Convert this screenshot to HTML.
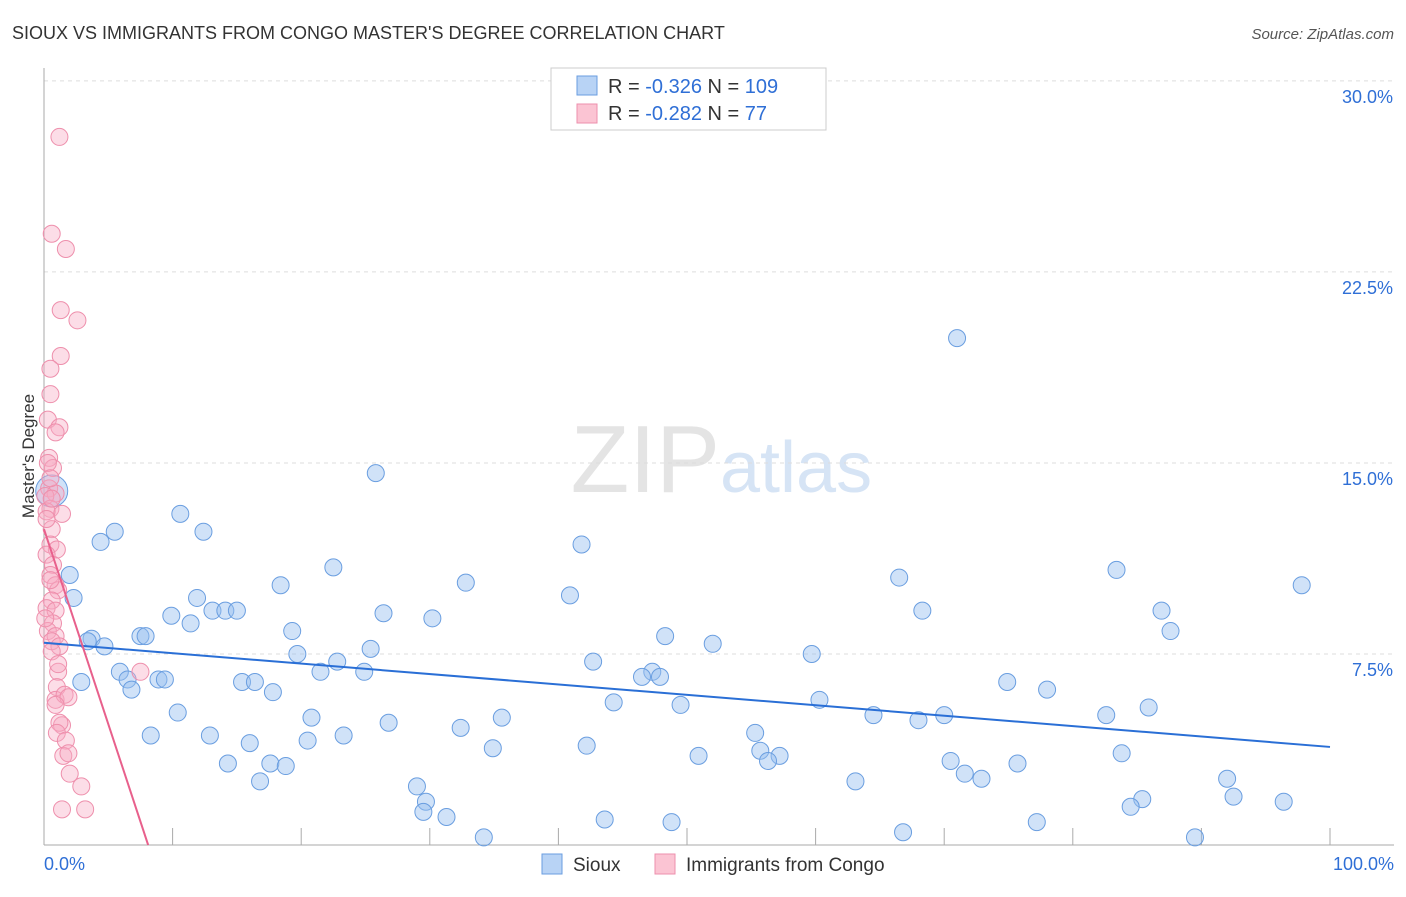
<!DOCTYPE html>
<html><head><meta charset="utf-8"><style>
body{margin:0;background:#fff;font-family:"Liberation Sans",sans-serif}
svg text{font-family:"Liberation Sans",sans-serif}
</style></head><body>
<svg id="c" width="1406" height="892">
<text x="12" y="39" font-size="18" fill="#333">SIOUX VS IMMIGRANTS FROM CONGO MASTER'S DEGREE CORRELATION CHART</text>
<text x="1394" y="39" font-size="15" fill="#555" text-anchor="end" font-style="italic">Source: ZipAtlas.com</text>
<text x="34" y="456" font-size="17" fill="#333" text-anchor="middle" transform="rotate(-90 34 456)">Master's Degree</text>
<text x="720" y="492" font-size="96" fill="#e4e4e4" text-anchor="end" font-family="Liberation Serif">ZIP</text>
<text x="720" y="492" font-size="72" fill="#d6e4f5">atlas</text>
<g id="grid"></g><g id="pts"></g><g id="trend"></g>
<g>
<rect x="551" y="68" width="275" height="62" fill="#fff" stroke="#ccc"/>
<rect x="577" y="76" width="20" height="19" fill="#b8d3f5" stroke="#6a9ee0"/>
<rect x="577" y="104" width="20" height="19" fill="#fbc4d3" stroke="#ee8fac"/>
<text x="608" y="93" font-size="20" fill="#333">R = <tspan fill="#2f6fd6">-0.326</tspan>   N = <tspan fill="#2f6fd6">109</tspan></text>
<text x="608" y="120" font-size="20" fill="#333">R = <tspan fill="#2f6fd6">-0.282</tspan>   N =   <tspan fill="#2f6fd6">77</tspan></text>
</g>
<g>
<rect x="542" y="854" width="20" height="20" fill="#b8d3f5" stroke="#6a9ee0"/>
<text x="573" y="871" font-size="19" fill="#333">Sioux</text>
<rect x="655" y="854" width="20" height="20" fill="#fbc4d3" stroke="#ee8fac"/>
<text x="686" y="871" font-size="19" fill="#333">Immigrants from Congo</text>
</g>
</svg>
<script>
const yTicks=[7.5,15,22.5,30];
const xTickLabels=["0.0%","100.0%"];
const siouxX=[25.8,71,10.6,5.5,12.4,4.4,41.8,22.5,2,18.4,32.8,66.5,83.4,97.8,2.3,11.9,40.9,9.9,13.1,14.1,15,26.4,30.2,68.3,86.9,11.4,87.6,3.7,3.4,4.7,7.5,7.9,19.3,48.3,52,59.7,19.7,22.8,25.4,21.5,24.9,42.7,47.3,47.9,46.5,5.9,6.5,6.8,2.9,8.9,9.4,15.4,16.4,17.8,74.9,78,44.3,49.5,60.3,10.4,20.8,35.6,64.5,70,68,82.6,85.9,26.8,32.4,8.3,12.9,23.3,16,20.5,42.2,34.9,55.3,83.8,55.7,50.9,57.2,56.3,14.3,17.6,18.8,16.8,70.5,75.7,71.6,72.9,63.1,29,29.7,29.5,31.3,92,92.5,85.4,84.5,96.4,34.2,43.6,48.8,66.8,77.2,89.5,0.6];
const siouxY=[14.6,19.9,13,12.3,12.3,11.9,11.8,10.9,10.6,10.2,10.3,10.5,10.8,10.2,9.7,9.7,9.8,9,9.2,9.2,9.2,9.1,8.9,9.2,9.2,8.7,8.4,8.1,8,7.8,8.2,8.2,8.4,8.2,7.9,7.5,7.5,7.2,7.7,6.8,6.8,7.2,6.8,6.6,6.6,6.8,6.5,6.1,6.4,6.5,6.5,6.4,6.4,6,6.4,6.1,5.6,5.5,5.7,5.2,5,5,5.1,5.1,4.9,5.1,5.4,4.8,4.6,4.3,4.3,4.3,4,4.1,3.9,3.8,4.4,3.6,3.7,3.5,3.5,3.3,3.2,3.2,3.1,2.5,3.3,3.2,2.8,2.6,2.5,2.3,1.7,1.3,1.1,2.6,1.9,1.8,1.5,1.7,0.3,1,0.9,0.5,0.9,0.3,13.9];
const congoX=[1.2,0.6,1.7,1.3,2.6,1.3,0.5,0.5,0.3,1.2,0.9,0.4,0.7,0.3,0.4,0.9,0.1,0.5,1.4,0.2,0.6,0.5,1,0.2,0.7,0.5,0.9,1.1,0.6,0.2,0.9,0.7,0.3,0.9,0.6,1.2,0.6,7.5,1.1,1,0.9,1.6,1.9,0.9,1.4,1.2,1,1.7,1.5,1.9,2,2.9,1.4,3.2,0.2,0.5,0.1,1.1,0.5,0.6];
const congoY=[27.8,24,23.4,21,20.6,19.2,18.7,17.7,16.7,16.4,16.2,15.2,14.8,15,14,13.8,13.7,13.2,13,13.1,12.4,11.8,11.6,11.4,11,10.6,10.2,10,9.6,9.3,9.2,8.7,8.4,8.2,8,7.8,7.6,6.8,6.8,6.2,5.7,5.9,5.8,5.5,4.7,4.8,4.4,4.1,3.5,3.6,2.8,2.3,1.4,1.4,12.8,10.4,8.9,7.1,14.4,13.6];
const NS="http://www.w3.org/2000/svg";
const X=v=>44+v*12.86, Y=v=>845-v*25.47;
function mk(t,a,p){const e=document.createElementNS(NS,t);for(const k in a)e.setAttribute(k,a[k]);p.appendChild(e);return e;}
const grid=document.getElementById('grid');
yTicks.forEach(t=>{
 const l=mk('line',{x1:44,x2:1394,y1:Y(t),y2:Y(t),stroke:'#ddd','stroke-dasharray':'4,4'},grid);
 
 
 const tx=mk('text',{x:1393,y:Y(t)+22,'font-size':18,fill:'#2f6fd6','text-anchor':'end'},grid);
 tx.textContent=t.toFixed(1)+'%';
 
 
});
const ax=mk('line',{x1:44,x2:44,y1:68,y2:845,stroke:'#aaa'},grid);


const bx=mk('line',{x1:44,x2:1394,y1:845,y2:845,stroke:'#aaa'},grid);


for(let i=1;i<=10;i++){const t=mk('line',{x1:X(i*10),x2:X(i*10),y1:828,y2:845,stroke:'#aaa'},grid);
 
 }
xTickLabels.forEach((s,i)=>{const t=mk('text',{x:i?1394:44,y:870,'font-size':18,fill:'#2f6fd6','text-anchor':i?'end':'start'},grid);t.textContent=s;
 
 });
const pts=document.getElementById('pts');
siouxX.forEach((x,i)=>{const r=i==siouxX.length-1?16:8.5;const c=mk('circle',{cx:X(x),cy:Y(siouxY[i]),r:r,fill:'rgba(150,190,240,0.45)',stroke:'#6a9ee0','stroke-width':1},pts);
 
 });
congoX.forEach((x,i)=>{const c=mk('circle',{cx:X(x),cy:Y(congoY[i]),r:8.5,fill:'rgba(248,170,195,0.4)',stroke:'#ee8fac','stroke-width':1},pts);
 
 });
const tr=document.getElementById('trend');
const l1=mk('line',{x1:X(0),y1:Y(7.94),x2:X(100),y2:Y(3.85),stroke:'#2a6fd6','stroke-width':2},tr);


const l2=mk('line',{x1:X(0),y1:Y(12.4),x2:X(8.1),y2:Y(0),stroke:'#e8608c','stroke-width':2},tr);


</script>
</body></html>
